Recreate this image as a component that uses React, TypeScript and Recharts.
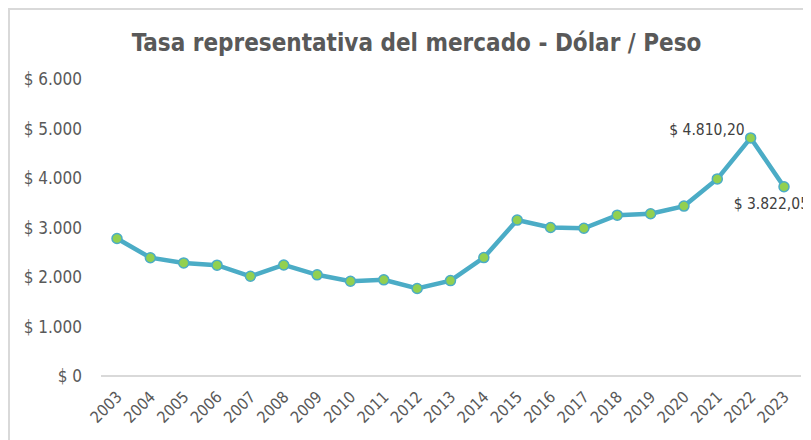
import React from "react";
import { LineChart, Line, XAxis, YAxis, LabelList } from "recharts";

const years = ["2003","2004","2005","2006","2007","2008","2009","2010","2011","2012","2013","2014","2015","2016","2017","2018","2019","2020","2021","2022","2023"];
const trm = [2778.21,2389.75,2284.22,2238.79,2014.76,2243.59,2044.23,1913.98,1942.7,1768.23,1926.83,2392.46,3149.47,3000.71,2984.0,3249.75,3277.14,3432.5,3981.16,4810.2,3822.05];
const yTicks = [0,1000,2000,3000,4000,5000,6000];
const chartTitle = "Tasa representativa del mercado - Dólar / Peso";

const data = years.map((y, i) => ({ year: y, value: trm[i] }));

const FONT = "'DejaVu Sans Condensed', 'DejaVu Sans', sans-serif";

const fmtTick = (v: number) => {
  const s = Math.round(v).toString().replace(/\B(?=(\d{3})+(?!\d))/g, ".");
  return "$ " + s;
};
const fmtLabel = (v: number) => {
  const [i, d] = v.toFixed(2).split(".");
  return "$ " + i.replace(/\B(?=(\d{3})+(?!\d))/g, ".") + "," + d;
};

const YTick = (props: any) => {
  const { x, y, payload } = props;
  return (
    <text x={x} y={y} dy="0.36em" textAnchor="end" fill="#595959" fontSize={17} fontFamily={FONT}>
      {fmtTick(payload.value)}
    </text>
  );
};

const XTick = (props: any) => {
  const { x, y, payload } = props;
  const px = x + 6;
  const py = y + 14;
  return (
    <text x={px} y={py} textAnchor="end" fill="#595959" fontSize={16} fontFamily={FONT} transform={`rotate(-45, ${px}, ${py})`}>
      {payload.value}
    </text>
  );
};

const DataLabel = (props: any) => {
  const { x, y, value, index } = props;
  if (index === 19) {
    return (
      <text x={x - 6} y={y - 8} dy="0.36em" textAnchor="end" fill="#404040" fontSize={15.5} fontFamily={FONT}>
        {fmtLabel(value)}
      </text>
    );
  }
  if (index === 20) {
    return (
      <text x={x + 25} y={y + 17} dy="0.36em" textAnchor="end" fill="#404040" fontSize={15.5} fontFamily={FONT}>
        {fmtLabel(value)}
      </text>
    );
  }
  return null;
};

export default function App() {
  return (
    <div style={{ width: 801, height: 430, borderLeft: "2px solid #D9D9D9", borderTop: "2px solid #D9D9D9", overflow: "hidden", position: "relative", background: "#fff" }}>
      <div style={{ position: "absolute", left: 0, width: 813, top: 19, textAlign: "center", fontFamily: FONT, fontWeight: "bold", fontSize: 24, color: "#595959", whiteSpace: "nowrap" }}>
        {chartTitle}
      </div>
      <LineChart width={801} height={430} data={data} margin={{ top: 69, right: 10, bottom: 0, left: 0 }}>
        <YAxis
          type="number"
          domain={[0, 6000]}
          ticks={yTicks}
          width={91}
          axisLine={false}
          tickLine={false}
          tick={<YTick />}
          tickMargin={0}
          tickSize={19}
          interval={0}
        />
        <XAxis
          dataKey="year"
          height={64}
          interval={0}
          padding={{ left: 16, right: 17 }}
          axisLine={{ stroke: "#D9D9D9", strokeWidth: 2 }}
          tickLine={false}
          tick={<XTick />}
        />
        <Line
          type="linear"
          dataKey="value"
          stroke="#4BACC6"
          strokeWidth={4.5}
          dot={{ r: 5, fill: "#92D050", stroke: "#4BACC6", strokeWidth: 1.5 }}
          isAnimationActive={false}
        >
          <LabelList dataKey="value" content={<DataLabel />} />
        </Line>
      </LineChart>
    </div>
  );
}
